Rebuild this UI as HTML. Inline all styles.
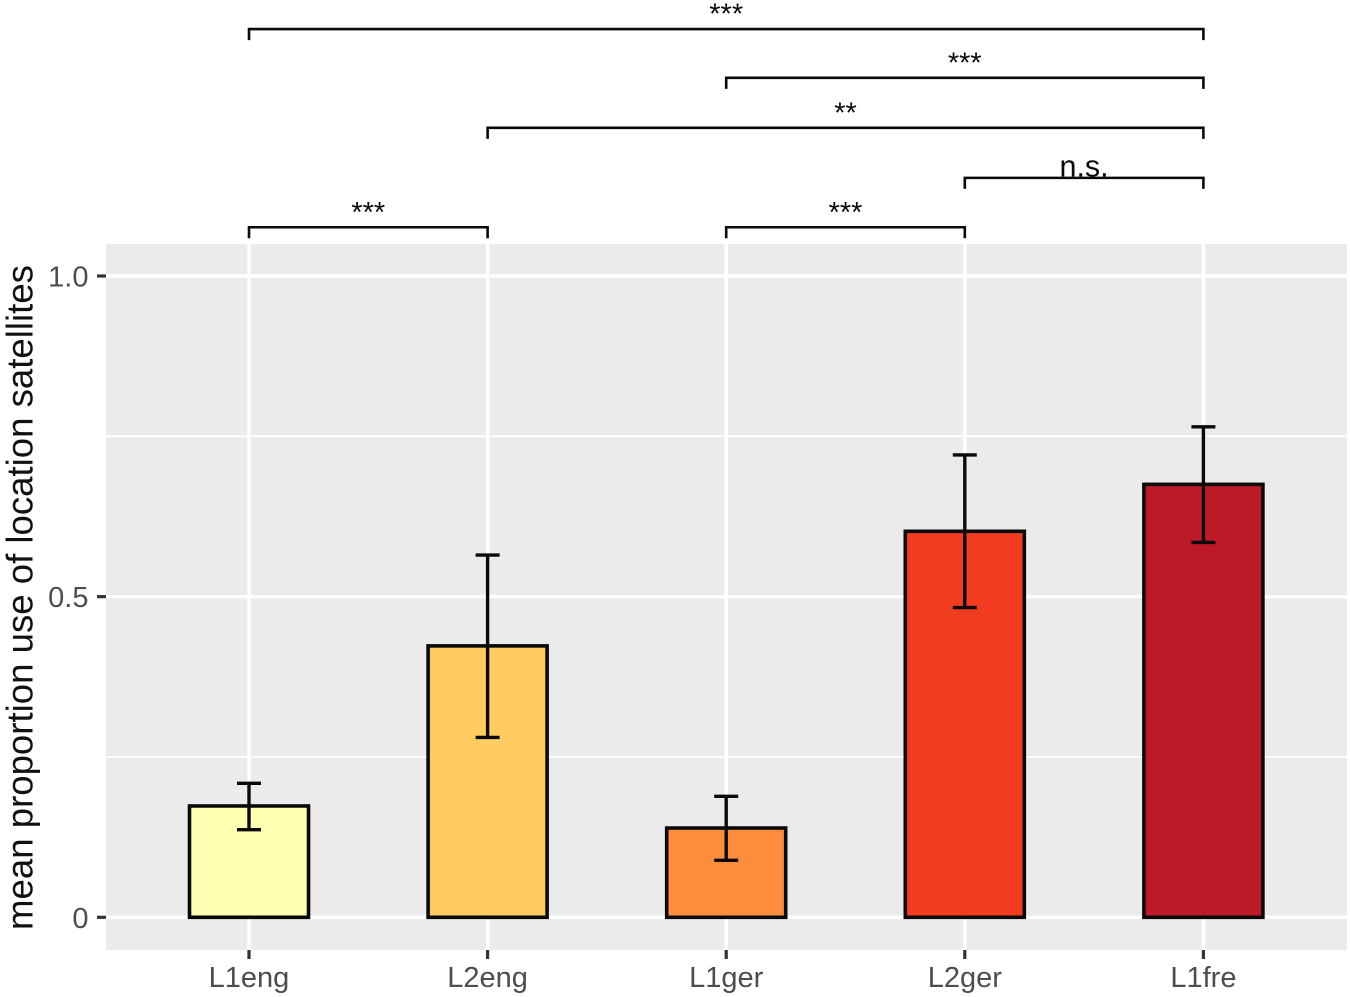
<!DOCTYPE html>
<html lang="en">
<head>
<meta charset="utf-8">
<title>Mean proportion use of location satellites</title>
<style>
html,body{margin:0;padding:0;background:#fff;width:1350px;height:997px;overflow:hidden}
svg{display:block;font-family:"Liberation Sans",Arial,sans-serif;filter:blur(0.35px)}
</style>
</head>
<body>
<svg id="chart" width="1350" height="997" viewBox="0 0 1350 997" xmlns="http://www.w3.org/2000/svg">
  <rect width="1350" height="997" fill="#ffffff"/>
  <rect x="106" y="244" width="1241" height="706" fill="#ebebeb"/>
  <g id="grid"></g>
  <g id="bars"></g>
  <g id="errors"></g>
  <g id="yaxis"></g>
  <g id="xaxis"></g>
  <g id="brackets"></g>
  <text transform="translate(32.5,597.5) rotate(-90)" text-anchor="middle" font-size="36.6" fill="#111111">mean proportion use of location satellites</text>
</svg>
<script>
const categories = ['L1eng', 'L2eng', 'L1ger', 'L2ger', 'L1fre'];
const means = [0.1736, 0.4232, 0.1392, 0.6019, 0.6751];
const errorHigh = [0.2090, 0.5649, 0.1887, 0.7210, 0.7648];
const errorLow = [0.1366, 0.2805, 0.0889, 0.4830, 0.5846];
const barColors = ['#ffffb2', '#ffcc5f', '#fd8d3c', '#f13c20', '#bc1a26'];
const yTicks = [0, 0.5, 1];
const yTickLabels = ['0', '0.5', '1.0'];
const yMinorTicks = [0.25, 0.75];
const bracketFrom = [0, 2, 1, 3, 0, 2];
const bracketTo = [4, 4, 4, 4, 1, 3];
const bracketLevel = [1.385, 1.309, 1.231, 1.153, 1.076, 1.076];
const bracketLabels = ['***', '***', '**', 'n.s.', '***', '***'];

const SVG_NS = 'http://www.w3.org/2000/svg';
const panelLeft = 106, panelRight = 1347, panelTop = 244, panelBottom = 950;
const yScale = v => 917.3 - v * 641.3;
const xScale = i => 249 + i * 238.6;
const barHalfWidth = 59.5;
const capHalfWidth = 12;

function make(parent, tag, attrs) {
  const el = document.createElementNS(SVG_NS, tag);
  for (const k in attrs) el.setAttribute(k, attrs[k]);
  parent.appendChild(el);
  return el;
}

const grid = document.getElementById('grid');
yMinorTicks.forEach(v => {
  const el = make(grid, 'line', {x1: panelLeft, x2: panelRight, y1: yScale(v), y2: yScale(v), stroke: '#fff', 'stroke-width': 1.8});
  
  
});
yTicks.forEach(v => {
  const el = make(grid, 'line', {x1: panelLeft, x2: panelRight, y1: yScale(v), y2: yScale(v), stroke: '#fff', 'stroke-width': 3.4});
  
  
});
categories.forEach((c, i) => {
  const el = make(grid, 'line', {x1: xScale(i), x2: xScale(i), y1: panelTop, y2: panelBottom, stroke: '#fff', 'stroke-width': 3.4});
  
  
});

const bars = document.getElementById('bars');
means.forEach((m, i) => {
  const el = make(bars, 'rect', {
    x: xScale(i) - barHalfWidth, y: yScale(m),
    width: barHalfWidth * 2, height: yScale(0) - yScale(m),
    fill: barColors[i], stroke: '#0a0a0a', 'stroke-width': 3.6
  });
  
  
});

const errors = document.getElementById('errors');
categories.forEach((c, i) => {
  const x = xScale(i), hi = yScale(errorHigh[i]), lo = yScale(errorLow[i]);
  const el = make(errors, 'path', {
    d: `M${x - capHalfWidth} ${hi}H${x + capHalfWidth}M${x} ${hi}V${lo}M${x - capHalfWidth} ${lo}H${x + capHalfWidth}`,
    fill: 'none', stroke: '#0a0a0a', 'stroke-width': 3.4
  });
  
  
});

const yaxis = document.getElementById('yaxis');
yTicks.forEach((v, i) => {
  const tick = make(yaxis, 'line', {x1: 97, x2: panelLeft, y1: yScale(v), y2: yScale(v), stroke: '#333', 'stroke-width': 3.2});
  
  
  const label = make(yaxis, 'text', {x: 88.5, y: yScale(v) + 10.5, 'text-anchor': 'end', 'font-size': 29, fill: '#4d4d4d'});
  label.textContent = yTickLabels[i];
  
  
});

const xaxis = document.getElementById('xaxis');
categories.forEach((c, i) => {
  const tick = make(xaxis, 'line', {x1: xScale(i), x2: xScale(i), y1: panelBottom, y2: panelBottom + 9, stroke: '#333', 'stroke-width': 3.2});
  
  
  const label = make(xaxis, 'text', {x: xScale(i), y: 987, 'text-anchor': 'middle', 'font-size': 29, fill: '#4d4d4d'});
  label.textContent = c;
  
  
});

const brackets = document.getElementById('brackets');
bracketLabels.forEach((t, i) => {
  const x1 = xScale(bracketFrom[i]), x2 = xScale(bracketTo[i]), y = yScale(bracketLevel[i]);
  const path = make(brackets, 'path', {d: `M${x1} ${y + 11}V${y}H${x2}V${y + 11}`, fill: 'none', stroke: '#0a0a0a', 'stroke-width': 2.6});
  
  
  const isText = t === 'n.s.';
  const label = make(brackets, 'text', {
    x: (x1 + x2) / 2, y: isText ? y - 1.5 : y - 5.5,
    'text-anchor': 'middle', 'font-size': isText ? 30.5 : 29, fill: '#0a0a0a'
  });
  label.textContent = t;
  
  
});
</script>
</body>
</html>
